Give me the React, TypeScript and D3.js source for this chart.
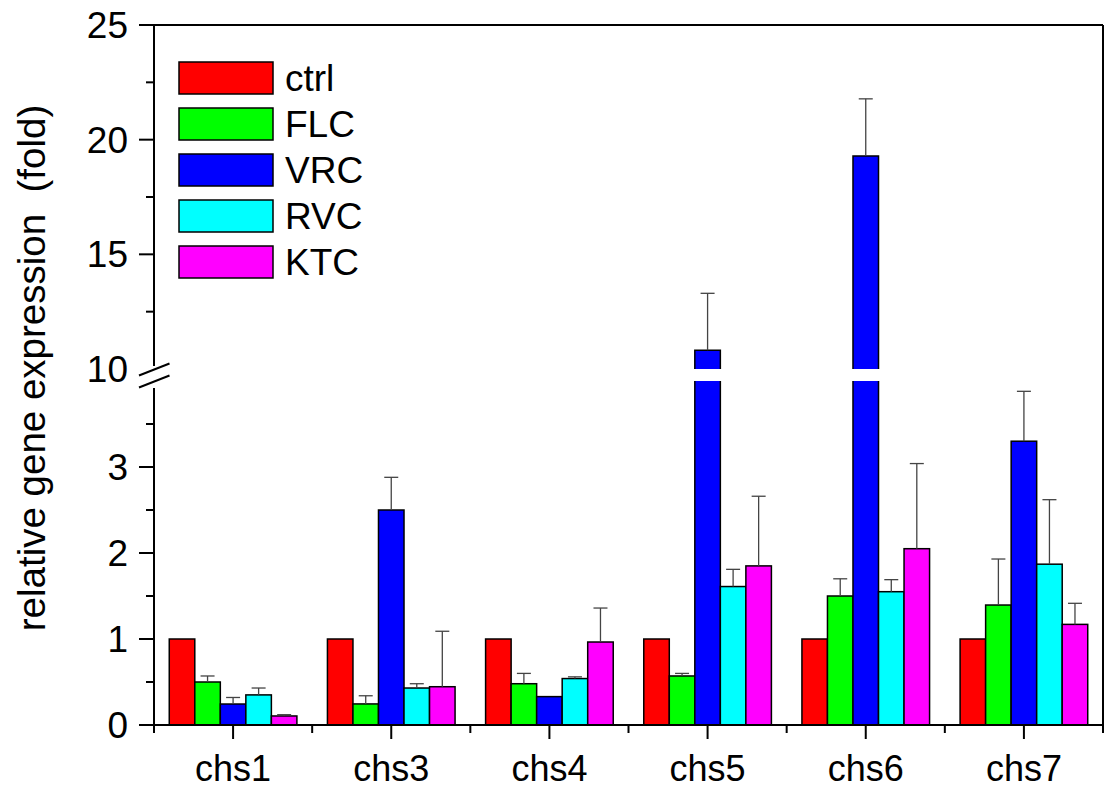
import React from "react";
import * as d3 from "d3";

const categories = ["chs1", "chs3", "chs4", "chs5", "chs6", "chs7"];
const seriesNames = ["ctrl", "FLC", "VRC", "RVC", "KTC"];
const seriesColors = ["#ff0000", "#00ff00", "#0000ff", "#00ffff", "#ff00ff"];

const ctrlValues = [1, 1, 1, 1, 1, 1];
const ctrlErrors = [0, 0, 0, 0, 0, 0];
const flcValues = [0.5, 0.245, 0.48, 0.57, 1.5, 1.395];
const flcErrors = [0.07, 0.095, 0.12, 0.03, 0.2, 0.535];
const vrcValues = [0.244, 2.5, 0.33, 10.82, 19.29, 3.3];
const vrcErrors = [0.076, 0.38, 0, 2.48, 2.49, 0.58];
const rvcValues = [0.35, 0.43, 0.54, 1.61, 1.55, 1.87];
const rvcErrors = [0.08, 0.05, 0.02, 0.2, 0.14, 0.75];
const ktcValues = [0.105, 0.445, 0.965, 1.85, 2.05, 1.17];
const ktcErrors = [0.015, 0.645, 0.395, 0.81, 0.99, 0.245];

const lowerDomain = [0, 4];
const upperDomain = [10, 25];
const lowerMajorTicks = [0, 1, 2, 3];
const lowerMinorTicks = [0.5, 1.5, 2.5, 3.5];
const upperMajorTicks = [10, 15, 20, 25];
const upperMinorTicks = [12.5, 17.5, 22.5];

const yLabel = "relative gene expression\u00a0\u00a0(fold)";

const allValues = [ctrlValues, flcValues, vrcValues, rvcValues, ktcValues];
const allErrors = [ctrlErrors, flcErrors, vrcErrors, rvcErrors, ktcErrors];

const FONT = "'Liberation Sans', Arial, Helvetica, sans-serif";

export default function App() {
  const left = 154, right = 1103, top = 25, bottom = 725;
  const lowerTop = 381, upperBottom = 369;

  const x0 = d3.scaleBand<string>().domain(categories).range([left, right])
    .paddingInner(0.193).paddingOuter(0.0965);
  const x1 = d3.scaleBand<string>().domain(seriesNames).range([0, x0.bandwidth()]);
  const yLow = d3.scaleLinear().domain(lowerDomain).range([bottom, lowerTop]);
  const yUp = d3.scaleLinear().domain(upperDomain).range([upperBottom, top]);

  const yOf = (v: number) => (v <= lowerDomain[1] ? yLow(v) : yUp(v));

  const bars: React.ReactNode[] = [];
  const errs: React.ReactNode[] = [];
  categories.forEach((c, ci) => {
    seriesNames.forEach((s, si) => {
      const v = allValues[si][ci];
      const e = allErrors[si][ci];
      const bx = (x0(c) as number) + (x1(s) as number);
      const bw = x1.bandwidth();
      const col = seriesColors[si];
      if (v <= lowerDomain[1]) {
        bars.push(
          <rect key={`b${ci}-${si}`} x={bx} y={yLow(v)} width={bw} height={bottom - yLow(v)}
            fill={col} stroke="#000" strokeWidth={1.5} />
        );
      } else {
        bars.push(
          <g key={`b${ci}-${si}`}>
            <rect x={bx} y={lowerTop} width={bw} height={bottom - lowerTop} fill={col} />
            <path d={`M${bx},${lowerTop}V${bottom}H${bx + bw}V${lowerTop}`} fill="none" stroke="#000" strokeWidth={1.5} />
            <rect x={bx} y={yUp(v)} width={bw} height={upperBottom - yUp(v)} fill={col} />
            <path d={`M${bx},${upperBottom}V${yUp(v)}H${bx + bw}V${upperBottom}`} fill="none" stroke="#000" strokeWidth={1.5} />
          </g>
        );
      }
      if (e > 0) {
        const cx = bx + bw / 2;
        const y1 = yOf(v);
        const y2 = yOf(v + e);
        errs.push(
          <g key={`e${ci}-${si}`} stroke="#444" strokeWidth={1.3}>
            <line x1={cx} x2={cx} y1={y1} y2={y2} />
            <line x1={cx - 7} x2={cx + 7} y1={y2} y2={y2} />
          </g>
        );
      }
    });
  });

  const boundaries = [left, ...categories.map((c) => (x0(c) as number) + x0.bandwidth() / 2 + x0.step() / 2)];

  return (
    <svg width={1114} height={788} style={{ position: "absolute", left: 0, top: 0, background: "#fff" }}
      fontFamily={FONT}>
      <rect x={0} y={0} width={1114} height={788} fill="#fff" />
      {bars}
      {errs}
      {/* frame */}
      <g stroke="#000" strokeWidth={2} fill="none">
        <line x1={left} x2={right} y1={top} y2={top} />
        <line x1={right} x2={right} y1={top} y2={bottom} />
        <line x1={left} x2={right} y1={bottom} y2={bottom} />
        <line x1={left} x2={left} y1={top} y2={366} />
        <line x1={left} x2={left} y1={388} y2={bottom} />
        {/* break marks */}
        <line x1={139} y1={375.5} x2={169.5} y2={363.5} />
        <line x1={139} y1={387.5} x2={169.5} y2={375.5} />
      </g>
      {/* y ticks */}
      <g stroke="#000" strokeWidth={2}>
        {lowerMajorTicks.map((t) => (
          <line key={`lm${t}`} x1={139} x2={left} y1={yLow(t)} y2={yLow(t)} />
        ))}
        {lowerMinorTicks.map((t) => (
          <line key={`ln${t}`} x1={146} x2={left} y1={yLow(t)} y2={yLow(t)} />
        ))}
        {upperMajorTicks.filter((t) => t !== 10).map((t) => (
          <line key={`um${t}`} x1={139} x2={left} y1={yUp(t)} y2={yUp(t)} />
        ))}
        {upperMinorTicks.map((t) => (
          <line key={`un${t}`} x1={146} x2={left} y1={yUp(t)} y2={yUp(t)} />
        ))}
        {categories.map((c) => {
          const cx = (x0(c) as number) + x0.bandwidth() / 2;
          return <line key={`xm${c}`} x1={cx} x2={cx} y1={bottom} y2={739} />;
        })}
        {boundaries.map((bx, i) => (
          <line key={`xn${i}`} x1={bx} x2={bx} y1={bottom} y2={733} />
        ))}
      </g>
      {/* y tick labels */}
      <g fontSize={37} textAnchor="end" fill="#000">
        {lowerMajorTicks.map((t) => (
          <text key={`lt${t}`} x={128} y={yLow(t) + 13}>{t}</text>
        ))}
        {upperMajorTicks.map((t) => (
          <text key={`ut${t}`} x={128} y={yUp(t) + 13}>{t}</text>
        ))}
      </g>
      {/* x labels */}
      <g fontSize={36} textAnchor="middle" fill="#000">
        {categories.map((c) => (
          <text key={`xl${c}`} x={(x0(c) as number) + x0.bandwidth() / 2} y={781}>{c}</text>
        ))}
      </g>
      {/* y label */}
      <text transform="translate(45,368) rotate(-90)" textAnchor="middle" fontSize={38.5} fill="#000">
        {yLabel}
      </text>
      {/* legend */}
      <g>
        {seriesNames.map((s, i) => (
          <g key={`lg${s}`}>
            <rect x={179} y={62 + i * 46} width={94} height={32} fill={seriesColors[i]} stroke="#000" strokeWidth={1.5} />
            <text x={285} y={62 + i * 46 + 29} fontSize={37} fill="#000">{s}</text>
          </g>
        ))}
      </g>
    </svg>
  );
}
